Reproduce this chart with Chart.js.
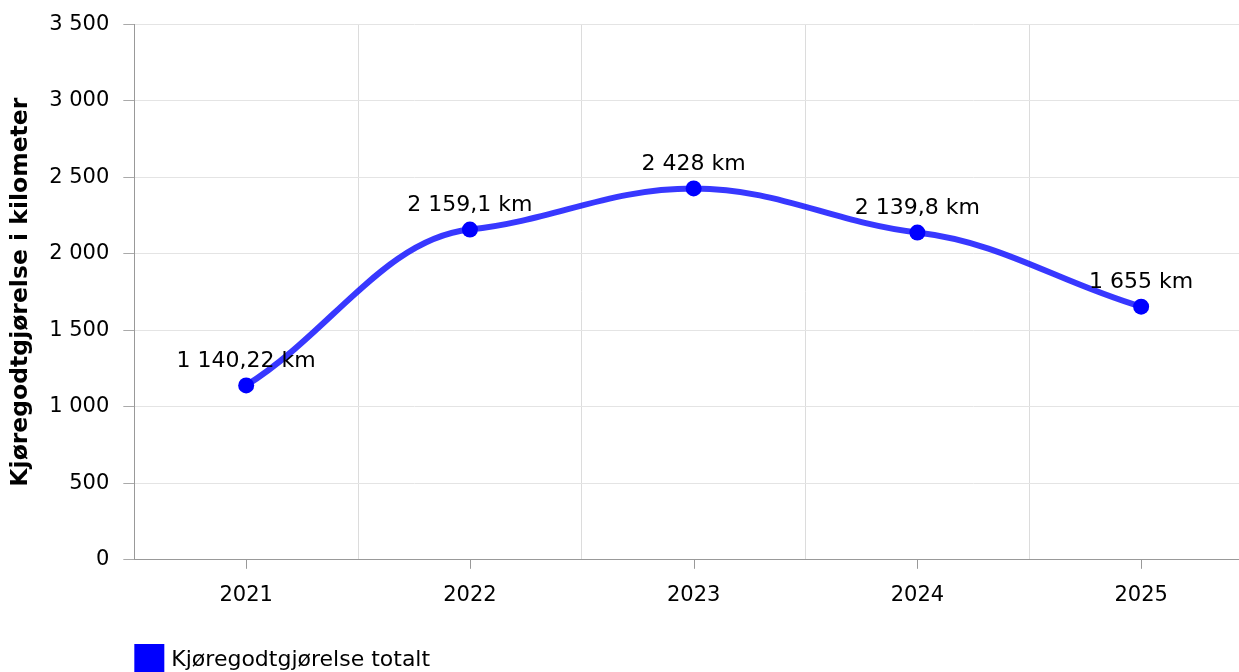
<!doctype html>
<html lang="no">
<head>
    <meta charset="UTF-8">
    <title>Kjøregodtgjørelse</title>
    <style>
        body { margin: 0; overflow: hidden; background: #fff; }
    </style>
</head>
<body>
    <canvas id="chart" width="1253" height="690"></canvas>
<script src="https://cdn.jsdelivr.net/npm/chart.js@4/dist/chart.umd.min.js"></script>
<script>
    // data
    const years = ["2021", "2022", "2023", "2024", "2025"];
    const km = [1140.22, 2159.1, 2428, 2139.8, 1655];
    const seriesName = "Kjøregodtgjørelse totalt";
    const yTitle = "Kjøregodtgjørelse i kilometer";

    const font = "'DejaVu Sans', Verdana, sans-serif";

    function spaced(n) {
        let parts = String(n).split(".");
        parts[0] = parts[0].replace(/\B(?=(\d{3})+(?!\d))/g, " ");
        return parts.join(",");
    }

    // the original spline is flat-ish at the inner points, S-shaped between them
    const flatSpline = {
        id: "flatSpline",
        beforeDatasetDraw(chart, args) {
            let meta = args.meta;
            if (meta.dataset.updateControlPoints) {
                meta.dataset.updateControlPoints(chart.chartArea, "x");
            }
            let pts = meta.data;
            let n = pts.length;
            let slope = (a, b) => (b.y - a.y) / (b.x - a.x);
            pts.forEach((p, i) => {
                let m;
                if (i === 0) m = 0.9 * slope(p, pts[1]);
                else if (i === n - 1) m = 0.9 * slope(pts[i - 1], p);
                else {
                    let s0 = slope(pts[i - 1], p);
                    let s1 = slope(p, pts[i + 1]);
                    m = s0 * s1 > 0 ? Math.sign(s0) * 0.6 * Math.min(Math.abs(s0), Math.abs(s1)) : 0;
                }
                let hp = i > 0 ? (p.x - pts[i - 1].x) * 0.38 : 0;
                let hn = i < n - 1 ? (pts[i + 1].x - p.x) * 0.38 : 0;
                p.cp1x = p.x - hp;
                p.cp1y = p.y - m * hp;
                p.cp2x = p.x + hn;
                p.cp2y = p.y + m * hn;
            });
        }
    };

    // value labels over each point
    const valueLabels = {
        id: "valueLabels",
        afterDatasetsDraw(chart) {
            let ctx = chart.ctx;
            let meta = chart.getDatasetMeta(0);
            ctx.save();
            ctx.font = "22px " + font;
            ctx.fillStyle = "#000";
            ctx.textAlign = "center";
            ctx.textBaseline = "middle";
            meta.data.forEach((pt, i) => {
                ctx.fillText(spaced(km[i]) + " km", pt.x, pt.y - 24);
            });
            ctx.restore();
        }
    };

    // tick marks under the category centres + legend at plot left
    const extras = {
        id: "extras",
        afterDraw(chart) {
            let ctx = chart.ctx;
            let x = chart.scales.x;
            let area = chart.chartArea;
            ctx.save();
            ctx.strokeStyle = "#999";
            ctx.lineWidth = 1;
            years.forEach((_, i) => {
                let px = Math.round(x.getPixelForValue(i)) + 0.5;
                ctx.beginPath();
                ctx.moveTo(px, area.bottom);
                ctx.lineTo(px, area.bottom + 9);
                ctx.stroke();
            });
            ctx.fillStyle = "#0000ff";
            ctx.fillRect(area.left, 644, 30, 30);
            ctx.fillStyle = "#000";
            ctx.font = "22px " + font;
            ctx.textBaseline = "middle";
            ctx.textAlign = "left";
            ctx.fillText(seriesName, area.left + 37, 660);
            ctx.restore();
        }
    };

    new Chart(document.getElementById("chart"), {
        type: "line",
        data: {
            labels: years,
            datasets: [{
                label: seriesName,
                data: km,
                borderColor: "rgba(0, 0, 255, 0.78)",
                backgroundColor: "#0000ff",
                borderWidth: 6,
                tension: 0.4,
                pointRadius: 8,
                pointHoverRadius: 8,
                pointBackgroundColor: "#0000ff",
                pointBorderWidth: 0
            }]
        },
        options: {
            responsive: false,
            animation: false,
            layout: { autoPadding: false, padding: { top: 5, right: 0, bottom: 59, left: 7 } },
            plugins: {
                legend: { display: false },
                tooltip: { enabled: false }
            },
            scales: {
                x: {
                    offset: true,
                    grid: { offset: true, color: "#dcdcdc", drawTicks: false },
                    border: { color: "#999", width: 1 },
                    ticks: { color: "#000", font: { family: font, size: 21 }, padding: 23 }
                },
                y: {
                    min: 0,
                    max: 3500,
                    grid: { color: "#e4e4e4", tickColor: "#aaa", tickLength: 11 },
                    border: { color: "#999", width: 1 },
                    ticks: {
                        stepSize: 500,
                        color: "#000",
                        padding: 14,
                        font: { family: font, size: 21, lineHeight: 1 },
                        callback: v => spaced(v)
                    },
                    title: {
                        display: true,
                        text: yTitle,
                        color: "#000",
                        font: { family: font, size: 23.5, weight: "bold" },
                        padding: { top: 0, bottom: 0 }
                    }
                }
            }
        },
        plugins: [flatSpline, valueLabels, extras]
    });
</script>
</body>
</html>
